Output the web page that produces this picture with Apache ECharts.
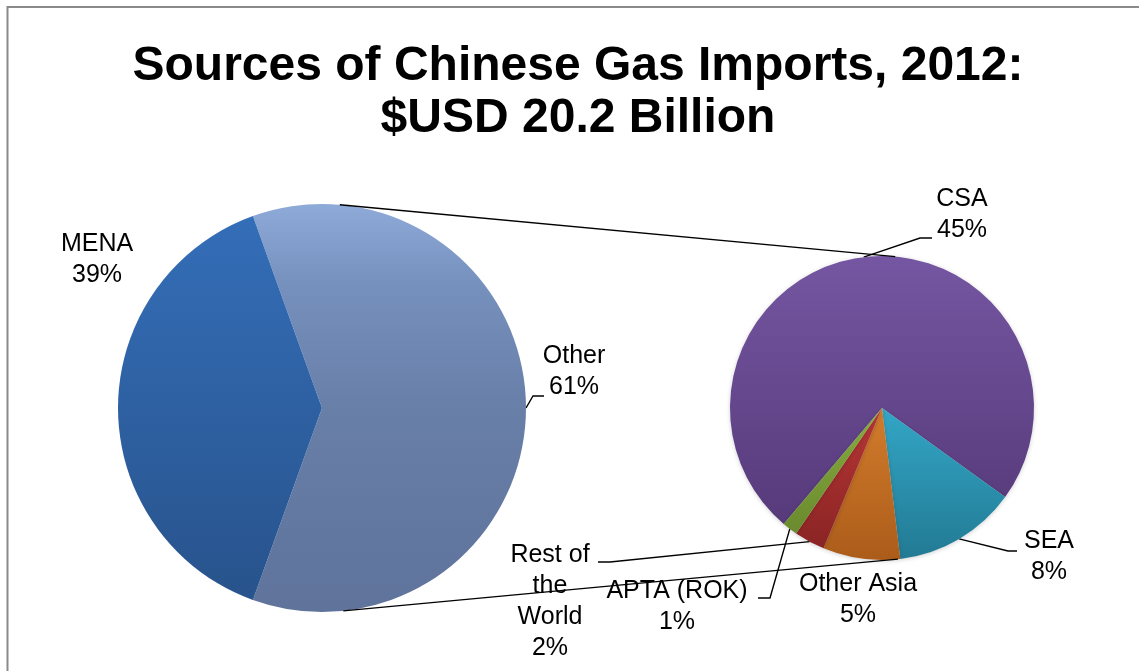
<!DOCTYPE html>
<html>
<head>
<meta charset="utf-8">
<script src="https://cdn.jsdelivr.net/npm/echarts@6/dist/echarts.min.js"></script>
<style>
html,body{margin:0;padding:0;background:#fff;}
#chart{width:1139px;height:671px;}
</style>
</head>
<body>
<div id="chart"></div>
<script>
// ---- data ----
var titleText = 'Sources of Chinese Gas Imports, 2012:\n$USD 20.2 Billion';
var mainCategories = ['Other', 'MENA'];
var mainValues = [61, 39];
var subCategories = ['CSA', 'SEA', 'Other Asia', 'Rest of\nthe\nWorld', 'APTA (ROK)'];
var subValues = [45, 8, 5, 2, 1];

// ---- styling / layout ----
var FONT = 'Liberation Sans, Arial, sans-serif';
function grad(top, bottom) {
  return new echarts.graphic.LinearGradient(0, 0, 0, 1, [
    {offset: 0, color: top}, {offset: 1, color: bottom}
  ]);
}
var mainColors = [
  new echarts.graphic.LinearGradient(0, 0, 0, 1, [
    {offset: 0, color: '#8eaad8'}, {offset: 0.2, color: '#7690bd'},
    {offset: 0.5, color: '#687fa8'}, {offset: 1, color: '#5f739b'}
  ]),
  grad('#346eb8', '#28538c')
];
var subColors = [
  grad('#7556a2', '#563a7a'),
  grad('#33a6c6', '#227a94'),
  grad('#d27c2c', '#ac5c1a'),
  grad('#b83636', '#8a2424'),
  grad('#86ac3e', '#6a8a2e')
];

var mainCenter = [322, 408], mainR = 204;
var subCenter = [882, 408], subR = 152;
var mainStart = mainValues[0] / 100 * 360 / 2;   // "Other" centred on the right
var subStart = 229.7;

// label placement (centre of text block) and leader bends
var labelPos = {
  '0-0': {x: 574, y: 372, line: [[533, 396], [544, 396]]},
  '0-1': {x: 97, y: 260},
  '1-0': {x: 962, y: 215, line: [[920, 238], [932, 238]]},
  '1-1': {x: 1049, y: 557, line: [[1008, 551], [1017, 551]]},
  '1-2': {x: 858, y: 600},
  '1-3': {x: 550, y: 602, line: [[610, 562], [598, 562]]},
  '1-4': {x: 677, y: 607, line: [[770, 598], [758, 598]]}
};

function edgePoint(center, r, deg) {
  var a = deg * Math.PI / 180;
  return [center[0] + r * Math.cos(a), center[1] - r * Math.sin(a)];
}
function midAngle(values, start, idx) {
  var tot = values.reduce(function (s, v) { return s + v; }, 0);
  var acc = 0;
  for (var i = 0; i < idx; i++) acc += values[i];
  return start - (acc + values[idx] / 2) / tot * 360;
}

var labelStyle = {
  show: true, position: 'outside', formatter: '{b}\n{c}%',
  color: '#000', fontFamily: FONT, fontSize: 25, lineHeight: 31, align: 'center'
};

function buildData(cats, vals, colors, noLine) {
  return cats.map(function (c, i) {
    var d = {name: c, value: vals[i], itemStyle: {color: colors[i]}};
    if (noLine.indexOf(i) >= 0) d.labelLine = {show: false};
    return d;
  });
}

var chart = echarts.init(document.getElementById('chart'), null, {renderer: 'canvas'});

var p1a = edgePoint(mainCenter, mainR, 85), p1b = edgePoint(subCenter, subR, 85);
var p2a = edgePoint(mainCenter, mainR, -84), p2b = edgePoint(subCenter, subR, -84);

chart.setOption({
  animation: false,
  backgroundColor: '#fff',
  title: {
    text: titleText, left: 573, top: 36, textAlign: 'center',
    textStyle: {fontFamily: FONT, fontSize: 48, fontWeight: 'bold', color: '#000', lineHeight: 52}
  },
  graphic: [
    {type: 'rect', z: 0, silent: true, shape: {x: 7.5, y: 7, width: 1200, height: 700},
     style: {fill: 'none', stroke: '#8a8a8a', lineWidth: 2}},
    {type: 'line', z: 100, silent: true, shape: {x1: p1a[0], y1: p1a[1], x2: p1b[0], y2: p1b[1]},
     style: {stroke: '#000', lineWidth: 1.4}},
    {type: 'line', z: 100, silent: true, shape: {x1: p2a[0], y1: p2a[1], x2: p2b[0], y2: p2b[1]},
     style: {stroke: '#000', lineWidth: 1.4}}
  ],
  series: [
    {
      type: 'pie', center: mainCenter, radius: mainR, startAngle: mainStart, clockwise: true,
      avoidLabelOverlap: false, silent: true,
      itemStyle: {borderWidth: 0},
      label: labelStyle,
      labelLine: {show: true, lineStyle: {color: '#000', width: 1.4}},
      labelLayout: layoutFn,
      data: buildData(mainCategories, mainValues, mainColors, [1])
    },
    {
      type: 'pie', center: subCenter, radius: subR, startAngle: subStart, clockwise: true,
      avoidLabelOverlap: false, silent: true,
      itemStyle: {borderWidth: 0, shadowColor: 'rgba(0,0,0,0.18)', shadowBlur: 4, shadowOffsetY: 1},
      label: labelStyle,
      labelLine: {show: true, lineStyle: {color: '#000', width: 1.4}},
      labelLayout: layoutFn,
      data: buildData(subCategories, subValues, subColors, [2])
    }
  ]
});

function layoutFn(params) {
  var key = params.seriesIndex + '-' + params.dataIndex;
  var lp = labelPos[key];
  if (!lp) return {};
  var out = {x: lp.x, y: lp.y, align: 'center', verticalAlign: 'middle'};
  if (lp.line) {
    var start = params.seriesIndex === 0
      ? edgePoint(mainCenter, mainR, midAngle(mainValues, mainStart, params.dataIndex))
      : edgePoint(subCenter, subR, midAngle(subValues, subStart, params.dataIndex));
    out.labelLinePoints = [start, lp.line[0], lp.line[1]];
  }
  return out;
}
</script>
</body>
</html>
